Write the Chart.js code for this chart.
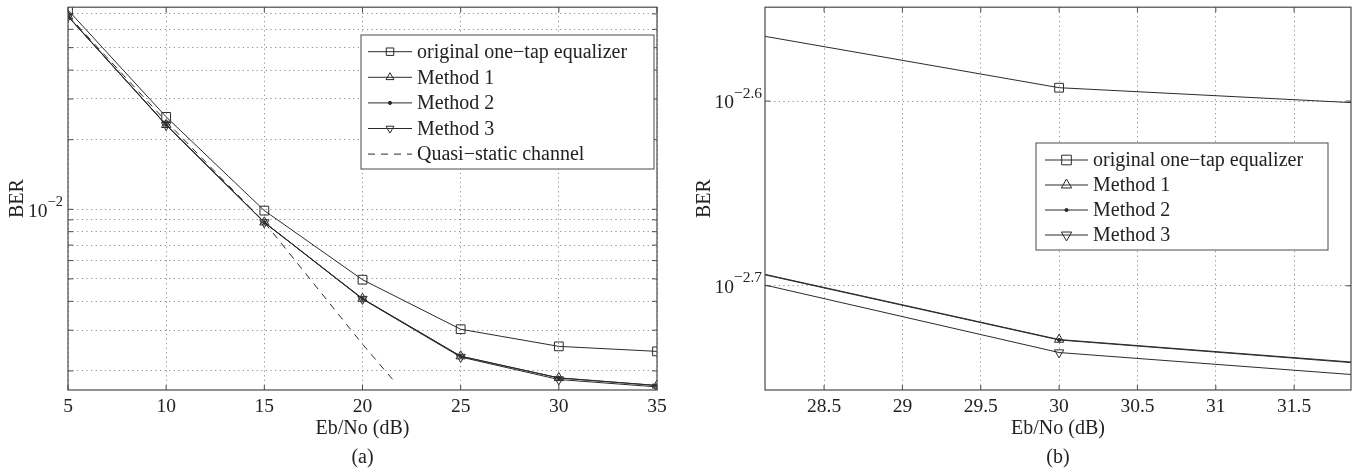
<!DOCTYPE html>
<html><head><meta charset="utf-8">
<script src="https://cdn.jsdelivr.net/npm/chart.js@4.4.0/dist/chart.umd.min.js"></script>
<style>
html,body{margin:0;padding:0;background:#fff;}
#wrap{position:relative;width:1364px;height:472px;overflow:hidden;background:#fff;}
#ca{position:absolute;left:0;top:0;}
#cb{position:absolute;left:680px;top:0;}
</style></head><body>
<div id="wrap"><canvas id="ca" width="680" height="472"></canvas><canvas id="cb" width="684" height="472"></canvas></div>
<script>
// ---------------- data ----------------
const ebNo = [5, 10, 15, 20, 25, 30, 35];
const berOriginal = [0.0727, 0.0251, 0.00987, 0.00496, 0.003029, 0.002554, 0.002430];
const berMethod1  = [0.0684, 0.0232, 0.00879, 0.00411, 0.002317, 0.001866, 0.001731];
const berMethod2  = [0.0683, 0.0232, 0.00878, 0.00410, 0.002315, 0.001865, 0.001729];
const berMethod3  = [0.0682, 0.0231, 0.00877, 0.00409, 0.002297, 0.001836, 0.001706];
const ebNoQuasi = [5, 10, 15, 20, 21.7];
const berQuasi  = [0.0690, 0.0240, 0.00879, 0.00261, 0.00177];
const seriesLabels = ['original one\u2212tap equalizer', 'Method 1', 'Method 2', 'Method 3', 'Quasi\u2212static channel'];

const xTicksA = [5, 10, 15, 20, 25, 30, 35];
const yGridA = [0.002, 0.003, 0.004, 0.005, 0.006, 0.007, 0.008, 0.009, 0.01, 0.02, 0.03, 0.04, 0.05, 0.06, 0.07];
const yLabelsA = [{ value: 0.01, base: '10', exp: '\u22122' }];
const xTicksB = [28.5, 29, 29.5, 30, 30.5, 31, 31.5];
const yGridB = [Math.pow(10, -2.7), Math.pow(10, -2.6)];
const yLabelsB = [{ value: Math.pow(10, -2.6), base: '10', exp: '\u22122.6' },
                  { value: Math.pow(10, -2.7), base: '10', exp: '\u22122.7' }];
const xTitle = 'Eb/No (dB)';
const yTitle = 'BER';
const captions = ['(a)', '(b)'];

// ---------------- style ----------------
const FONT = '"Liberation Serif", "Times New Roman", serif';
const INK = '#222';
const LINE = '#2b2b2b';
const GRID = '#8c8c8c';
const BOX = '#4a4a4a';

function pts(xs, ys) { return xs.map((x, i) => ({ x: x, y: ys[i] })); }

function makeDatasets(clip, withQuasi) {
  const list = [
    { label: seriesLabels[0], data: pts(ebNo, berOriginal), pointStyle: 'rect', pointRadius: 6.2 },
    { label: seriesLabels[1], data: pts(ebNo, berMethod1), pointStyle: 'triangle', pointRadius: 5.4 },
    { label: seriesLabels[2], data: pts(ebNo, berMethod2), pointStyle: 'circle', pointRadius: 1.6, pointBackgroundColor: LINE },
    { label: seriesLabels[3], data: pts(ebNo, berMethod3), pointStyle: 'triangle', pointRotation: 180, pointRadius: 5.4 }
  ];
  if (withQuasi) list.push({ label: seriesLabels[4], data: pts(ebNoQuasi, berQuasi), pointRadius: 0, borderDash: [7, 6] });
  return list.map(d => Object.assign({
    borderColor: LINE, borderWidth: 1, pointBorderColor: LINE, pointBorderWidth: 1,
    pointBackgroundColor: 'rgba(0,0,0,0)', pointRotation: 0, borderDash: [], tension: 0, fill: false, clip: clip
  }, d));
}

function framePlugin(cfg) {
  return {
    id: 'frame',
    afterDatasetsDraw(chart) {
      const ctx = chart.ctx, a = chart.chartArea;
      const xs = chart.scales.x, ys = chart.scales.y;
      ctx.save();
      ctx.strokeStyle = BOX; ctx.lineWidth = 1.2; ctx.setLineDash([]);
      ctx.strokeRect(a.left, a.top, a.right - a.left, a.bottom - a.top);
      ctx.lineWidth = 1;
      const L = 5;
      ctx.beginPath();
      xs.ticks.forEach(t => {
        const px = xs.getPixelForValue(t.value);
        ctx.moveTo(px, a.bottom); ctx.lineTo(px, a.bottom - L);
        ctx.moveTo(px, a.top); ctx.lineTo(px, a.top + L);
      });
      ys.ticks.forEach(t => {
        const py = ys.getPixelForValue(t.value);
        ctx.moveTo(a.left, py); ctx.lineTo(a.left + L, py);
        ctx.moveTo(a.right, py); ctx.lineTo(a.right - L, py);
      });
      ctx.stroke();
      ctx.restore();
    },
    afterDraw(chart) {
      const ctx = chart.ctx, a = chart.chartArea, ys = chart.scales.y;
      ctx.save();
      ctx.fillStyle = INK;
      // y tick labels with superscript exponent
      cfg.yLabels.forEach(l => {
        const py = ys.getPixelForValue(l.value);
        ctx.font = cfg.supSize + 'px ' + FONT;
        const we = ctx.measureText(l.exp).width;
        ctx.font = '19.5px ' + FONT;
        const wb = ctx.measureText(l.base).width;
        const xe = a.left - cfg.labelGap - we;
        ctx.textAlign = 'left'; ctx.textBaseline = 'alphabetic';
        ctx.fillText(l.base, xe - wb, py + 7.3);
        ctx.font = cfg.supSize + 'px ' + FONT;
        ctx.fillText(l.exp, xe, py - 3.5);
      });
      // legend
      const g = cfg.legend;
      ctx.fillStyle = '#fff';
      ctx.fillRect(g.x0, g.y0, g.x1 - g.x0, g.y1 - g.y0);
      ctx.strokeStyle = BOX; ctx.lineWidth = 1;
      ctx.strokeRect(g.x0, g.y0, g.x1 - g.x0, g.y1 - g.y0);
      chart.data.datasets.forEach((ds, i) => {
        const y = g.row0 + i * g.rowH;
        ctx.strokeStyle = ds.borderColor; ctx.lineWidth = 1;
        ctx.setLineDash(ds.borderDash || []);
        ctx.beginPath(); ctx.moveTo(g.s0, y); ctx.lineTo(g.s1, y); ctx.stroke();
        ctx.setLineDash([]);
        if (ds.pointRadius > 0) {
          ctx.fillStyle = ds.pointBackgroundColor; ctx.strokeStyle = ds.pointBorderColor; ctx.lineWidth = 1;
          const r = ds.pointStyle === 'circle' ? ds.pointRadius : ds.pointRadius * g.mscale;
          Chart.helpers.drawPoint(ctx, { pointStyle: ds.pointStyle, radius: r, rotation: ds.pointRotation || 0, borderWidth: 1 }, (g.s0 + g.s1) / 2, y);
        }
        ctx.fillStyle = INK; ctx.font = '20px ' + FONT;
        ctx.textAlign = 'left'; ctx.textBaseline = 'middle';
        ctx.fillText(ds.label, g.tx, y + 1);
      });
      ctx.restore();
    }
  };
}

function makeChart(id, cfg) {
  return new Chart(document.getElementById(id), {
    type: 'line',
    data: { datasets: makeDatasets(cfg.clip, cfg.withQuasi) },
    options: {
      responsive: false, animation: false, devicePixelRatio: 1, events: [],
      layout: { padding: { left: 0, top: cfg.padTop, right: cfg.padRight, bottom: 0 } },
      plugins: { legend: { display: false }, tooltip: { enabled: false } },
      scales: {
        x: {
          type: 'linear', min: cfg.xMin, max: cfg.xMax,
          afterBuildTicks: s => { s.ticks = cfg.xTicks.map(v => ({ value: v })); },
          afterFit: s => { s.height = 82; },
          ticks: { font: { family: FONT, size: 19.5 }, color: INK, padding: 5, maxRotation: 0, autoSkip: false, callback: v => String(v) },
          grid: { color: GRID, lineWidth: 1, drawTicks: false },
          border: { display: false, dash: [1.2, 3.4] },
          title: { display: true, text: [xTitle, cfg.caption], color: INK, font: { family: FONT, size: 20, lineHeight: 1.45 }, padding: { top: 0, bottom: 0 } }
        },
        y: {
          type: 'logarithmic', min: cfg.yMin, max: cfg.yMax,
          afterBuildTicks: s => { s.ticks = cfg.yGrid.map(v => ({ value: v })); },
          afterFit: s => { s.width = cfg.yAxisW; },
          ticks: { display: false },
          grid: { color: GRID, lineWidth: 1, drawTicks: false },
          border: { display: false, dash: [1.2, 3.4] },
          title: { display: true, text: yTitle, color: INK, font: { family: FONT, size: 20, lineHeight: 1.2 }, padding: { top: cfg.yTitlePad, bottom: 0 } }
        }
      }
    },
    plugins: [framePlugin(cfg)]
  });
}

makeChart('ca', {
  xMin: 5, xMax: 35, yMin: 1.654e-3, yMax: 0.0748,
  xTicks: xTicksA, yGrid: yGridA, yLabels: yLabelsA, caption: captions[0],
  padTop: 6, padRight: 23, yAxisW: 68, yTitlePad: 6, labelGap: 5, supSize: 14.5,
  clip: undefined, withQuasi: true,
  legend: { x0: 361, x1: 654, y0: 35, y1: 169, row0: 51.7, rowH: 25.6, s0: 368, s1: 412, tx: 417, mscale: 0.85 }
});

makeChart('cb', {
  xMin: 28.123, xMax: 31.863, yMin: Math.pow(10, -2.7564), yMax: Math.pow(10, -2.5492),
  xTicks: xTicksB, yGrid: yGridB, yLabels: yLabelsB, caption: captions[1],
  padTop: 7, padRight: 13, yAxisW: 85, yTitlePad: 12.8, labelGap: 3, supSize: 15.5,
  clip: 0, withQuasi: false,
  legend: { x0: 356, x1: 648, y0: 143, y1: 250, row0: 160, rowH: 25, s0: 365, s1: 408, tx: 413, mscale: 1.1 }
});
</script>
</body></html>
